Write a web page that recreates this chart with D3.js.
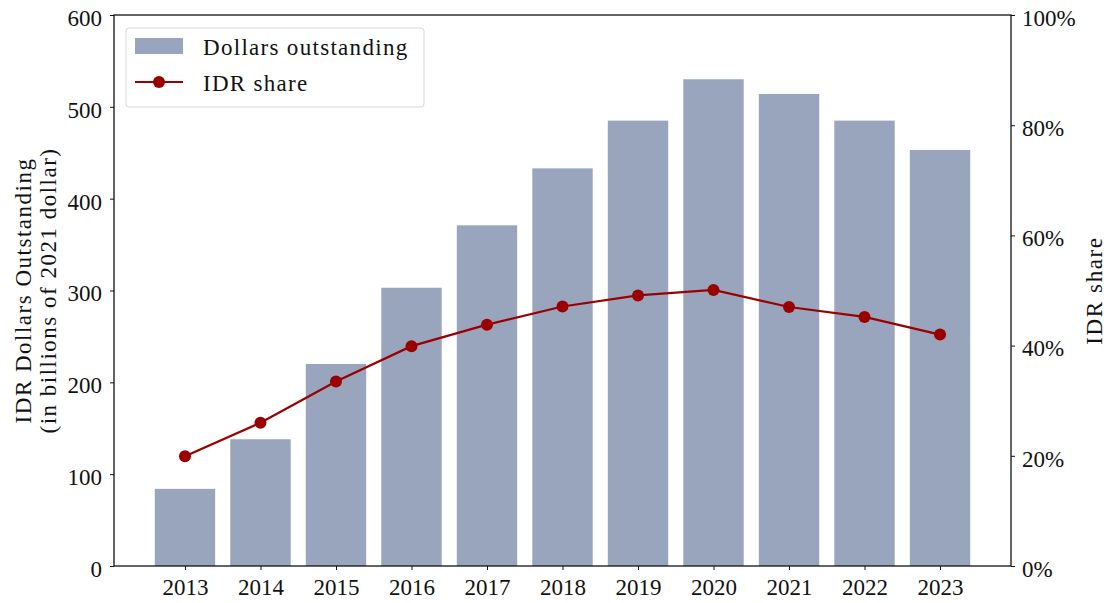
<!DOCTYPE html>
<html>
<head>
<meta charset="utf-8">
<script src="https://cdn.jsdelivr.net/npm/d3@7"></script>
<style>
  html, body { margin: 0; padding: 0; background: #fff; }
  svg text { font-family: "Liberation Serif", "DejaVu Serif", serif; fill: #111; }
</style>
</head>
<body>
<svg id="chart" width="1110" height="603"></svg>
<script>
// IDR dollars outstanding (billions of 2021 dollars) and IDR share, 2013–2023
const years = ["2013","2014","2015","2016","2017","2018","2019","2020","2021","2022","2023"];
const dollarsOutstanding = [84, 138, 220, 303, 371, 433, 485, 530, 514, 485, 453];
const idrShare = [0.199, 0.260, 0.335, 0.399, 0.438, 0.471, 0.491, 0.501, 0.470, 0.452, 0.420];
const leftTicks = [0, 100, 200, 300, 400, 500, 600];
const rightTicks = [0, 0.2, 0.4, 0.6, 0.8, 1.0];

const svg = d3.select("#chart");
const W = 1110, H = 603;
const margin = { left: 114, right: 99, top: 15, bottom: 37 };
const x0 = margin.left, x1 = W - margin.right;
const y0 = H - margin.bottom, y1 = margin.top;

// Category index scale: bar width 0.8 with 5% padding on each side
const n = years.length;
const pad = 0.4 + 0.05 * (n - 1 + 0.8);
const idx = d3.scaleLinear().domain([-pad, n - 1 + pad]).range([x0, x1]);
const yL = d3.scaleLinear().domain([0, 600]).range([y0, y1]);
const yR = d3.scaleLinear().domain([0, 1]).range([y0, y1]);
const bw = idx(0.8) - idx(0);

const barColor = "#99a5bd";
const lineColor = "#9b0000";

// Bars
svg.append("g").selectAll("rect").data(years).join("rect")
  .attr("x", (d, i) => idx(i) - bw / 2)
  .attr("y", (d, i) => yL(dollarsOutstanding[i]))
  .attr("width", bw)
  .attr("height", (d, i) => yL(0) - yL(dollarsOutstanding[i]))
  .attr("fill", barColor);

// Share line with markers
const line = d3.line().x((d, i) => idx(i)).y(d => yR(d));
svg.append("path").datum(idrShare)
  .attr("d", line).attr("fill", "none")
  .attr("stroke", lineColor).attr("stroke-width", 2.2);
svg.append("g").selectAll("circle").data(idrShare).join("circle")
  .attr("cx", (d, i) => idx(i)).attr("cy", d => yR(d)).attr("r", 6)
  .attr("fill", lineColor);

// Axes
const fs = 23;
const xAxis = d3.axisBottom(idx).tickValues(d3.range(n)).tickFormat(i => years[i])
  .tickSizeOuter(0).tickSize(4).tickPadding(9);
const gx = svg.append("g").attr("transform", `translate(0,${y0})`).call(xAxis);
const leftAxis = d3.axisLeft(yL).tickValues(leftTicks).tickSizeOuter(0).tickSize(4).tickPadding(8);
const gl = svg.append("g").attr("transform", `translate(${x0},0)`).call(leftAxis);
const rightAxis = d3.axisRight(yR).tickValues(rightTicks).tickFormat(d3.format(".0%"))
  .tickSizeOuter(0).tickSize(4).tickPadding(7);
const gr = svg.append("g").attr("transform", `translate(${x1},0)`).call(rightAxis);
[gx, gl, gr].forEach(g => {
  g.selectAll("text").style("font-size", fs + "px").attr("fill", "#111");
  g.selectAll("line").attr("stroke", "#111").attr("stroke-width", 1);
  g.select(".domain").remove();
});
gl.selectAll("text").attr("dy", "0.45em");
gr.selectAll("text").attr("dy", "0.45em");

// Frame
svg.append("rect").attr("x", x0).attr("y", y1).attr("width", x1 - x0).attr("height", y0 - y1)
  .attr("fill", "none").attr("stroke", "#111").attr("stroke-width", 1.3);

// Axis titles
const ym = (y0 + y1) / 2;
const lt = svg.append("text").attr("transform", `translate(31,${ym}) rotate(-90)`)
  .attr("text-anchor", "middle").style("font-size", "23px").style("letter-spacing", "1.5px");
lt.append("tspan").attr("x", 0).attr("dy", 0).text("IDR Dollars Outstanding");
lt.append("tspan").attr("x", 0).attr("dy", 25).text("(in billions of 2021 dollar)");
svg.append("text").attr("transform", `translate(1102,${ym}) rotate(-90)`)
  .attr("text-anchor", "middle").style("font-size", "23px").style("letter-spacing", "1.6px")
  .text("IDR share");

// Legend
const lg = svg.append("g");
lg.append("rect").attr("x", 126).attr("y", 28).attr("width", 298).attr("height", 79).attr("rx", 3)
  .attr("fill", "#fff").attr("fill-opacity", 0.8).attr("stroke", "#d9d9d9").attr("stroke-width", 1);
lg.append("rect").attr("x", 135).attr("y", 38).attr("width", 48).attr("height", 16).attr("fill", barColor);
lg.append("text").attr("x", 203).attr("y", 55).style("font-size", "23px").style("letter-spacing", "1.3px")
  .text("Dollars outstanding");
lg.append("line").attr("x1", 135).attr("x2", 183).attr("y1", 82).attr("y2", 82)
  .attr("stroke", lineColor).attr("stroke-width", 2.2);
lg.append("circle").attr("cx", 159).attr("cy", 82).attr("r", 6).attr("fill", lineColor);
lg.append("text").attr("x", 203).attr("y", 91).style("font-size", "23px").style("letter-spacing", "1.3px")
  .text("IDR share");
</script>
</body>
</html>
